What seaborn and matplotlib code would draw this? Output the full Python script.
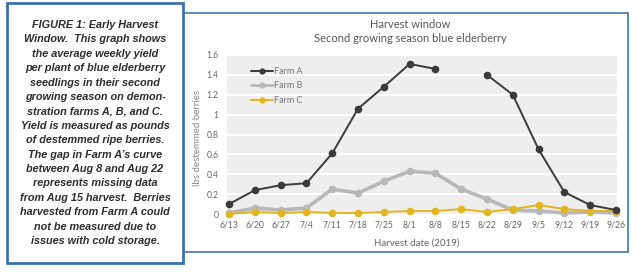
import numpy as np
import pandas as pd
import matplotlib
matplotlib.use("Agg")
import matplotlib.pyplot as plt
from matplotlib.patches import Rectangle
from matplotlib.lines import Line2D
import seaborn as sns

dates = ["6/13", "6/20", "6/27", "7/4", "7/11", "7/18", "7/25", "8/1",
         "8/8", "8/15", "8/22", "8/29", "9/5", "9/12", "9/19", "9/26"]
farm_a = [0.10, 0.24, 0.29, 0.31, 0.61, 1.06, 1.28, 1.51,
          1.46, np.nan, 1.40, 1.20, 0.65, 0.22, 0.09, 0.04]
farm_b = [0.01, 0.06, 0.04, 0.06, 0.25, 0.21, 0.33, 0.43,
          0.41, 0.25, 0.15, 0.04, 0.03, 0.01, 0.02, 0.01]
farm_c = [0.00, 0.02, 0.01, 0.02, 0.01, 0.01, 0.02, 0.03,
          0.03, 0.05, 0.02, 0.05, 0.09, 0.05, 0.03, 0.03]
yticks = [0, 0.2, 0.4, 0.6, 0.8, 1.0, 1.2, 1.4, 1.6]
ytick_labels = ["0", "0.2", "0.4", "0.6", "0.8", "1", "1.2", "1.4", "1.6"]

caption = ("FIGURE 1: Early Harvest\nWindow.  This graph shows\nthe average weekly yield\n"
           "per plant of blue elderberry\nseedlings in their second\ngrowing season on demon-\n"
           "stration farms A, B, and C.\nYield is measured as pounds\nof destemmed ripe berries.\n"
           "The gap in Farm A\u2019s curve\nbetween Aug 8 and Aug 22\nrepresents missing data\n"
           "from Aug 15 harvest.  Berries\nharvested from Farm A could\nnot be measured due to\n"
           "issues with cold storage.")

colors = {"Farm A": "#3b3b3b", "Farm B": "#b8b8b8", "Farm C": "#e3b51f"}
widths = {"Farm A": 1.4, "Farm B": 2.6, "Farm C": 1.4}

sns.set_theme(style="white")
plt.rcParams["font.family"] = ["Lato", "DejaVu Sans"]

W, H = 640, 273
fig = plt.figure(figsize=(6.4, 2.73), dpi=100)

# chart frame
fig.patches.append(Rectangle((183 / W, 1 - 252 / H), (628 - 183) / W, (252 - 13) / H,
                             transform=fig.transFigure, fill=False,
                             edgecolor="#3f78b2", linewidth=1.2, zorder=0))

ax = fig.add_axes([227 / W, 1 - 214 / H, (617 - 227) / W, (214 - 55) / H])
ax.set_facecolor("#eeeeee")

x = np.arange(len(dates))
rows = []
for name, vals in (("Farm A", farm_a), ("Farm B", farm_b), ("Farm C", farm_c)):
    seg = 0
    for i, v in enumerate(vals):
        if np.isnan(v):
            seg += 1
            continue
        rows.append({"i": x[i], "val": v, "farm": name, "seg": seg})
df = pd.DataFrame(rows)

for name in ["Farm B", "Farm C", "Farm A"]:
    sub = df[df["farm"] == name]
    sns.lineplot(data=sub, x="i", y="val", units="seg", estimator=None,
                 color=colors[name], linewidth=widths[name], marker="o",
                 markersize=5.5, markeredgewidth=0, ax=ax, clip_on=False,
                 legend=False, zorder=3 if name == "Farm A" else 2)

ax.set_xlim(-0.08, 15.04)
ax.set_ylim(0, 1.6)
ax.set_yticks(yticks)
ax.set_yticklabels(ytick_labels)
ax.set_xticks(x)
ax.set_xticklabels(dates)
for t in yticks[1:]:
    ax.axhline(t, color="white", linewidth=1.5, zorder=1)
ax.tick_params(axis="both", length=0, labelsize=6.2, labelcolor="#666666")
ax.tick_params(axis="y", pad=6)
ax.tick_params(axis="x", pad=5)
for s in ax.spines.values():
    s.set_visible(False)
ax.set_xlabel("")
ax.set_ylabel("")

fig.text(417 / W, 1 - 243 / H, "Harvest date (2019)", ha="center", va="center",
         fontsize=7, color="#666666")
fig.text(197 / W, 1 - 138 / H, "lbs destemmed berries", ha="center", va="center",
         rotation=90, fontsize=7, color="#888888")
fig.text(410 / W, 1 - 24 / H, "Harvest window", ha="center", va="center",
         fontsize=8, color="#595959")
fig.text(410 / W, 1 - 38 / H, "Second growing season blue elderberry", ha="center",
         va="center", fontsize=8, color="#595959")

handles = [Line2D([0], [0], color=colors[n], linewidth=widths[n] if n != "Farm B" else 2.0,
                  marker="o", markersize=4.5, markeredgewidth=0)
           for n in ["Farm A", "Farm B", "Farm C"]]
leg = ax.legend(handles, ["Farm A", "Farm B", "Farm C"], loc="upper left",
                bbox_to_anchor=(24 / 390, 1 - 12 / 159), frameon=False,
                fontsize=6.5, handlelength=2.4, handletextpad=0.15,
                labelspacing=0.6, borderaxespad=0, borderpad=0)
for t in leg.get_texts():
    t.set_color("#777777")

# caption box
fig.patches.append(Rectangle((7 / W, 1 - 263 / H), (183 - 7) / W, (263 - 3) / H,
                             transform=fig.transFigure, facecolor="white",
                             edgecolor="#3a72ad", linewidth=2.0, zorder=5))
fig.text(95 / W, 1 - 133 / H, caption, ha="center", va="center",
         family=["Liberation Sans", "DejaVu Sans"], fontweight="bold",
         fontstyle="italic", fontsize=7.8, color="#2e2e2e", linespacing=1.55, zorder=6)

fig.savefig("out.png", dpi=100)
